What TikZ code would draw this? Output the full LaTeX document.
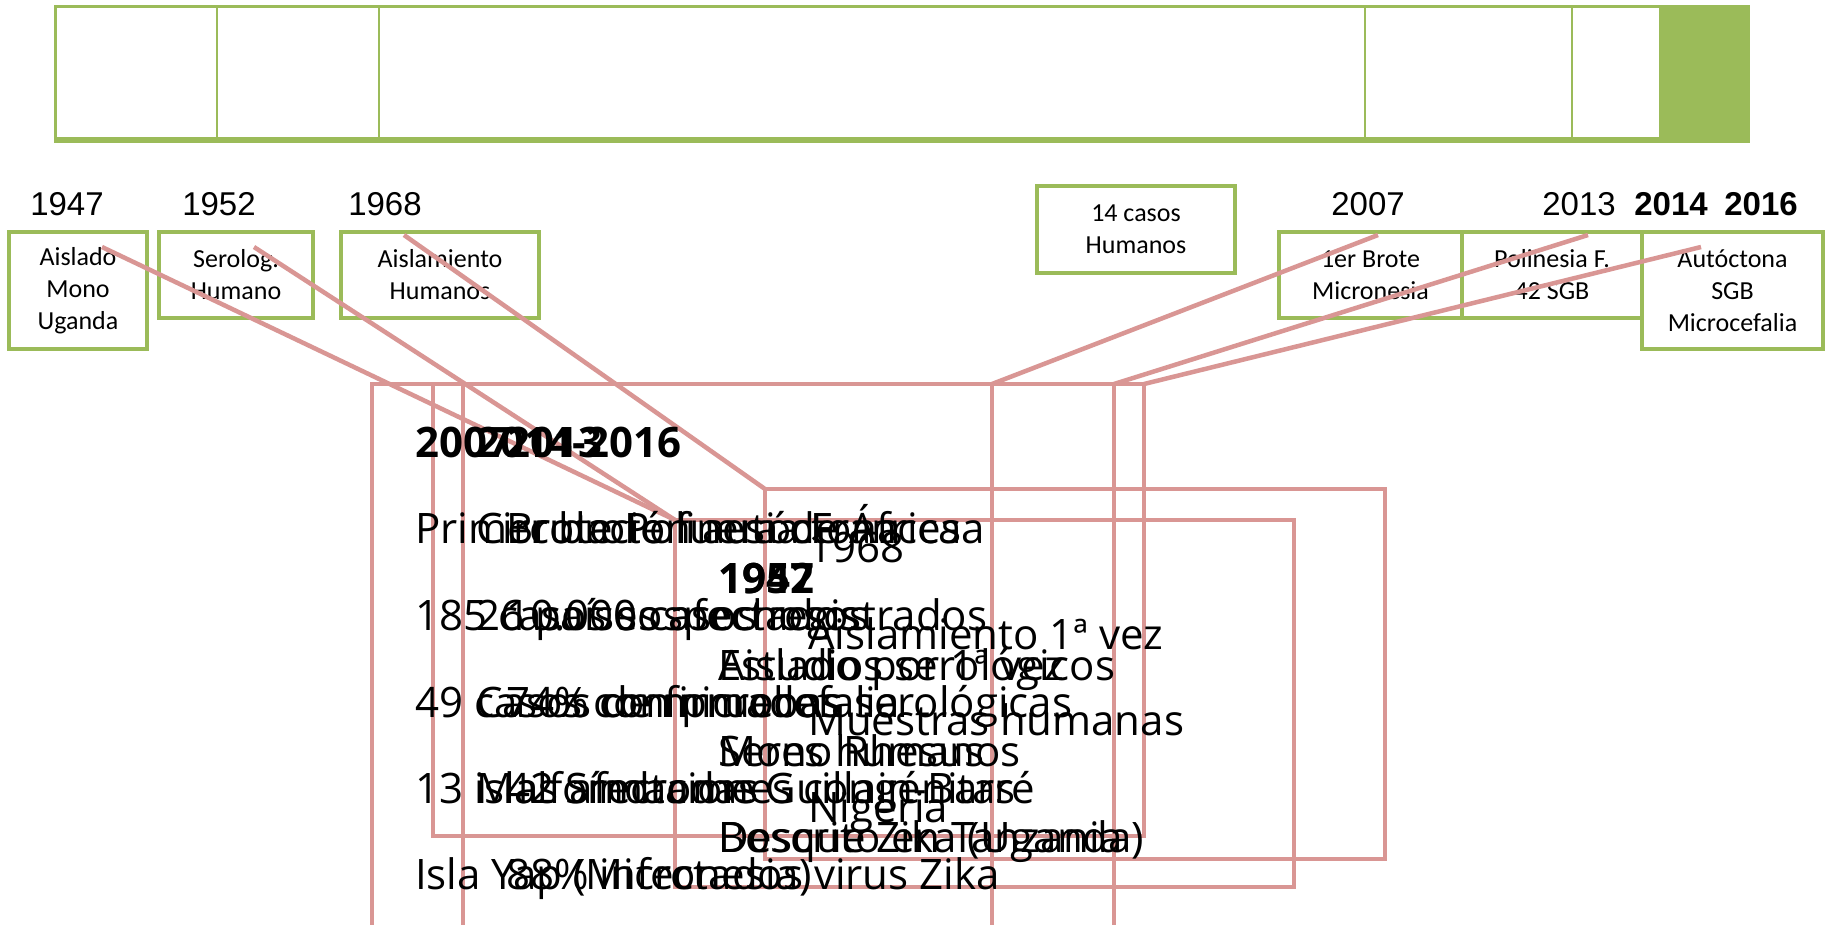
\documentclass[tikz,border=0pt]{standalone}
\usepackage{fontspec}
\setmainfont{Open Sans}
\newfontfamily\boxfont{Carlito}
\newfontfamily\yearfont{Liberation Sans}
\usetikzlibrary{calc}
\definecolor{zikagreen}{RGB}{155,187,89}
\definecolor{zikapink}{RGB}{217,150,148}

\begin{document}
\begin{tikzpicture}[x=1pt,y=1pt,yscale=-1,
  yearlabel/.style={anchor=base, inner sep=0pt, font=\yearfont\fontsize{33}{40}\selectfont},
  yearbold/.style={yearlabel, font=\yearfont\bfseries\fontsize{33}{40}\selectfont},
  greenbox/.style={draw=zikagreen, line width=4.5pt, anchor=north west, align=center,
    inner sep=0pt, outer sep=0pt, font=\boxfont\fontsize{26}{32}\selectfont},
  callout/.style={draw=zikapink, line width=4.5pt, anchor=north west, inner sep=0pt, outer sep=0pt},
  pointer/.style={draw=zikapink, line width=4.5pt},
  calltext/.style={anchor=base west, inner sep=0pt, font=\fontsize{42}{50}\selectfont},
  callhead/.style={calltext, font=\bfseries\fontsize{42}{50}\selectfont}]
\useasboundingbox (0,0) rectangle (1825,924);
\fill[white] (0,0) rectangle (1825,924);
\clip (0,0) rectangle (1825,924);

%Shape: Rectangle [timeline bar]
\fill[zikagreen] (1659,6) rectangle (1748,141);
\draw[zikagreen, line width=3pt] (55,6) rectangle (1748,141);
\draw[zikagreen, line width=5.5pt] (55,140) -- (1748,140);
%Straight Lines [bar dividers]
\draw[zikagreen, line width=2pt] (217,6) -- (217,140);
\draw[zikagreen, line width=2pt] (379,6) -- (379,140);
\draw[zikagreen, line width=2pt] (1365,6) -- (1365,140);
\draw[zikagreen, line width=2pt] (1572,6) -- (1572,140);

% Text Node [years]
\node[yearlabel] (y1947) at (67,215) {1947};
\node[yearlabel] (y1952) at (219,215) {1952};
\node[yearlabel] (y1968) at (385,215) {1968};
\node[yearlabel] (y2007) at (1368,215) {2007};
\node[yearlabel] (y2013) at (1579,215) {2013};
\node[yearbold] (y2014) at (1671,215) {2014};
\node[yearbold] (y2016) at (1761,215) {2016};

%Shape: Rectangle [event boxes]
\node[greenbox, minimum width=138pt, minimum height=117pt] (b1947) at (9,232) {Aislado\\Mono\\Uganda};
\node[greenbox, minimum width=154pt, minimum height=86pt] (b1952) at (159,232) {Serolog.\\Humano};
\node[greenbox, minimum width=198pt, minimum height=86pt] (b1968) at (341,232) {Aislamiento\\Humanos};
\node[greenbox, minimum width=198pt, minimum height=87pt] (b14) at (1037,186) {14 casos\\Humanos};
\node[greenbox, minimum width=183pt, minimum height=86pt] (b2007) at (1279,232) {1er Brote\\Micronesia};
\node[greenbox, minimum width=180pt, minimum height=86pt] (b2013) at (1462,232) {Polinesia F.\\42 SGB};
\node[greenbox, minimum width=181pt, minimum height=117pt] (b2016) at (1642,232) {Autóctona\\SGB\\Microcefalia};

% pointer start points
\coordinate (p1947) at (102,247);
\coordinate (p1952) at (254,247);
\coordinate (p1968) at (404,235);
\coordinate (p2007) at (1378,235);
\coordinate (p2013) at (1588,235);
\coordinate (p2016) at (1701,247);

%Shape: Rectangle [callouts]
\node[callout, minimum width=620pt, minimum height=600pt] (c2007) at (372,384) {};
\node[callout, minimum width=711pt, minimum height=452pt] (c2016) at (433,384) {};
\node[callout, minimum width=651pt, minimum height=600pt] (c2013) at (463,384) {};
\node[callout, minimum width=619pt, minimum height=367pt] (c1947) at (675,520) {};
\node[callout, minimum width=619pt, minimum height=367pt] (c1952) at (675,520) {};
\node[callout, minimum width=620pt, minimum height=370pt] (c1968) at (765,489) {};

%Straight Lines [pointers]
\draw[pointer] (p1947) -- (c1947.north west);
\draw[pointer] (p1952) -- (c1952.north west);
\draw[pointer] (p1968) -- (c1968.north west);
\draw[pointer] (p2007) -- (c2007.north east);
\draw[pointer] (p2013) -- (c2013.north east);
\draw[pointer] (p2016) -- (c2016.north east);

% Text Node [2007]
\node[callhead] (h2007) at (415,457) {2007};
\node[calltext] (t2007a) at (415,543) {Primer brote fuera de África};
\node[calltext] (t2007b) at (415,630) {185 casos sospechosos};
\node[calltext] (t2007c) at (415,717) {49 casos confirmados};
\node[calltext] (t2007d) at (415,803) {13 islas afectadas};
\node[calltext] (t2007e) at (415,889) {Isla Yap (Micronesia)};
% Text Node [2014-2016]
\node[callhead] (h2016) at (476,457) {2014-2016};
\node[calltext] (t2016a) at (476,543) {Circulación autóctona};
\node[calltext] (t2016b) at (476,630) {26 países afectados};
\node[calltext] (t2016c) at (476,717) {Casos de microcefalia};
\node[calltext] (t2016d) at (476,803) {Malformaciones congénitas};
% Text Node [2013]
\node[callhead] (h2013) at (506,457) {2013};
\node[calltext] (t2013a) at (506,543) {Brote Polinesia Francesa};
\node[calltext] (t2013b) at (506,630) {10.000 casos registrados};
\node[calltext] (t2013c) at (506,717) {74\% con pruebas serológicas};
\node[calltext] (t2013d) at (506,803) {42 Síndrome Guillain-Barré};
\node[calltext] (t2013e) at (506,889) {88\% infectados virus Zika};
% Text Node [1947]
\node[callhead] (h1947) at (718,593) {1947};
\node[calltext] (t1947a) at (718,680) {Aislado por 1ª vez};
\node[calltext] (t1947b) at (718,766) {Mono Rhesus};
\node[calltext] (t1947c) at (718,852) {Bosque Zika (Uganda)};
% Text Node [1952]
\node[callhead] (h1952) at (718,593) {1952};
\node[calltext] (t1952a) at (718,680) {Estudios serológicos};
\node[calltext] (t1952b) at (718,766) {Seres humanos};
\node[calltext] (t1952c) at (718,852) {Descrito en Tanzania};
% Text Node [1968]
\node[calltext] (h1968) at (808,562) {1968};
\node[calltext] (t1968a) at (808,649) {Aislamiento 1ª vez};
\node[calltext] (t1968b) at (808,735) {Muestras humanas};
\node[calltext] (t1968c) at (808,822) {Nigeria};

\end{tikzpicture}
\end{document}
